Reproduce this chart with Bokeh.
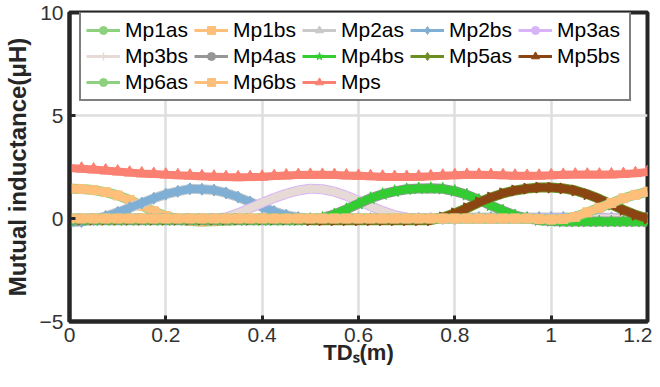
import math
from bokeh.plotting import figure
from bokeh.models import Legend, LegendItem, FixedTicker, Range1d
from bokeh.embed import file_html
from bokeh.resources import INLINE

# sampling grid of the displacement TD_s (m)
TDs = [round(i * 0.025, 3) for i in range(49)]

Mps = [2.45, 2.42, 2.38, 2.33, 2.28, 2.23, 2.19, 2.16, 2.13, 2.10,
       2.08, 2.05, 2.03, 2.01, 2.00, 2.01, 2.03, 2.06, 2.09, 2.11,
       2.12, 2.12, 2.11, 2.09, 2.07, 2.05, 2.03, 2.02, 2.02, 2.03,
       2.05, 2.08, 2.10, 2.12, 2.12, 2.11, 2.10, 2.08, 2.07, 2.08,
       2.10, 2.12, 2.13, 2.13, 2.13, 2.14, 2.16, 2.20, 2.26]

Mp1bs = [1.45, 1.43, 1.38, 1.28, 1.12, 0.90, 0.62, 0.35, 0.12, -0.03,
         -0.12, -0.15, -0.13, -0.10, -0.06, -0.03, -0.01, 0.00, 0.00, 0.00,
         0.00, 0.00, 0.00, 0.00, 0.00, 0.00, 0.00, 0.00, 0.00, 0.00,
         0.00, 0.00, 0.00, 0.00, 0.00, 0.00, 0.00, 0.00, 0.00, 0.00,
         0.00, 0.00, 0.00, 0.00, 0.00, 0.00, 0.00, 0.00, 0.00]

Mp2bs = [-0.20, -0.15, -0.05, 0.10, 0.30, 0.52, 0.75, 0.98, 1.18, 1.32,
         1.44, 1.42, 1.38, 1.24, 1.04, 0.80, 0.56, 0.34, 0.16, 0.05,
         0.00, -0.02, 0.00, 0.00, 0.00, 0.00, 0.00, 0.00, 0.00, 0.00,
         0.00, 0.00, 0.00, 0.05, 0.05, 0.05, 0.05, 0.05, 0.05, 0.05,
         0.05, 0.05, 0.05, 0.05, 0.05, 0.03, 0.03, 0.03, 0.03]

Mp3bs = [0.00, 0.00, 0.00, 0.00, 0.00, 0.00, 0.00, 0.00, 0.00, 0.00,
         0.00, 0.00, 0.00, 0.05, 0.25, 0.50, 0.76, 1.00, 1.20, 1.36,
         1.45, 1.42, 1.30, 1.10, 0.86, 0.60, 0.36, 0.16, 0.04, 0.00,
         0.00, 0.00, 0.00, 0.00, 0.00, 0.00, 0.00, 0.00, 0.00, 0.00,
         0.00, 0.00, 0.00, 0.00, 0.00, 0.00, 0.00, 0.00, 0.00]

Mp4bs = [-0.08, -0.08, -0.08, -0.08, -0.08, -0.08, -0.08, -0.08, -0.08, -0.08,
         -0.08, -0.08, -0.08, -0.08, -0.08, -0.08, -0.08, -0.08, -0.08, -0.08,
         -0.06, 0.02, 0.20, 0.45, 0.72, 0.98, 1.18, 1.32, 1.42, 1.46,
         1.47, 1.44, 1.33, 1.15, 0.90, 0.63, 0.38, 0.15, 0.00, -0.08,
         -0.12, -0.15, -0.15, -0.15, -0.15, -0.15, -0.15, -0.15, -0.15]

Mp5bs = [-0.03, -0.03, -0.03, -0.03, -0.03, -0.03, -0.03, -0.03, -0.03, -0.03,
         -0.03, -0.03, -0.03, -0.03, -0.03, -0.03, -0.03, -0.03, -0.03, -0.03,
         -0.08, -0.08, -0.08, -0.08, -0.08, -0.08, -0.08, -0.08, -0.08, -0.08,
         -0.08, 0.05, 0.25, 0.50, 0.78, 1.02, 1.22, 1.36, 1.45, 1.50,
         1.50, 1.46, 1.36, 1.18, 0.95, 0.68, 0.42, 0.18, 0.00]

Mp6bs = [0.00, 0.00, 0.00, 0.00, 0.00, 0.00, 0.00, 0.00, 0.00, 0.00,
         0.00, 0.00, 0.00, 0.00, 0.00, 0.00, 0.00, 0.00, 0.00, 0.00,
         0.00, 0.00, 0.00, 0.00, 0.00, 0.00, 0.00, 0.00, 0.00, 0.00,
         0.00, 0.00, 0.00, 0.00, 0.00, 0.00, 0.00, 0.00, 0.00, -0.03,
         -0.05, -0.03, 0.08, 0.30, 0.52, 0.75, 0.98, 1.15, 1.30]

# the "as" curves coincide with their "bs" counterparts in the picture
Mp1as, Mp2as, Mp3as, Mp4as, Mp5as, Mp6as = Mp1bs, Mp2bs, Mp3bs, Mp4bs, Mp5bs, Mp6bs

x_ticks = [0, 0.2, 0.4, 0.6, 0.8, 1.0, 1.2]
y_ticks = [-5, 0, 5, 10]

series = [
    # name, values, color, marker, marker size, angle
    ("Mp1as", Mp1as, "#8dd17e", "circle", 9, 0.0),
    ("Mp1bs", Mp1bs, "#fdbf7a", "square", 9, 0.0),
    ("Mp2as", Mp2as, "#c9c9c9", "triangle", 10, 0.0),
    ("Mp2bs", Mp2bs, "#7fafd4", "diamond", 12, 0.0),
    ("Mp3as", Mp3as, "#d6b4f7", "circle", 5, 0.0),
    ("Mp3bs", Mp3bs, "#e6d9d6", "cross", 9, 0.0),
    ("Mp4as", Mp4as, "#969696", "circle", 6, 0.0),
    ("Mp4bs", Mp4bs, "#33cc33", "star", 13, 0.0),
    ("Mp5as", Mp5as, "#6b8e23", "diamond", 11, 0.0),
    ("Mp5bs", Mp5bs, "#8b4513", "triangle", 11, -math.pi / 2),
    ("Mp6as", Mp6as, "#8dd17e", "circle", 9, 0.0),
    ("Mp6bs", Mp6bs, "#fdbf7a", "square", 9, 0.0),
    ("Mps", Mps, "#fa8072", "triangle", 12, 0.0),
]

INK = "#262626"
FONT = "Liberation Sans"

p = figure(width=652, height=379, output_backend="svg", toolbar_location=None,
           x_range=Range1d(0, 1.2), y_range=Range1d(-5, 10),
           min_border_left=68, min_border_right=5, min_border_top=12,
           min_border_bottom=58)

p.outline_line_color = INK
p.outline_line_width = 4
p.outline_line_alpha = 1.0

p.xaxis.ticker = FixedTicker(ticks=x_ticks)
p.yaxis.ticker = FixedTicker(ticks=y_ticks)
p.xaxis.major_label_overrides = {0: "0", 1: "1"}

for ax in (p.xaxis[0], p.yaxis[0]):
    ax.axis_line_color = INK
    ax.axis_line_width = 4
    ax.major_tick_line_color = INK
    ax.major_tick_line_width = 3
    ax.major_tick_in = 6
    ax.major_tick_out = 0
    ax.minor_tick_line_color = None
    ax.major_label_text_font = FONT
    ax.major_label_text_font_size = "21px"
    ax.major_label_text_color = "#333333"
    ax.axis_label_text_font = FONT
    ax.axis_label_text_font_style = "bold"
    ax.axis_label_text_color = INK

p.xaxis.major_label_standoff = 6
p.xaxis.axis_label = "TD\u209b(m)"
p.xaxis.axis_label_text_font_size = "22px"
p.xaxis.axis_label_standoff = -5
p.yaxis.major_label_standoff = 6
p.yaxis.axis_label = "Mutual inductance(\u03bcH)"
p.yaxis.axis_label_text_font_size = "24px"
p.yaxis.axis_label_standoff = 6

p.xgrid.ticker = FixedTicker(ticks=x_ticks)
p.ygrid.ticker = FixedTicker(ticks=y_ticks)
p.grid.grid_line_color = "#dedede"
p.grid.grid_line_width = 2.5

# data curves
for name, vals, color, marker, msize, ang in series:
    if name.endswith("as"):
        p.line(TDs, vals, line_color=color, line_width=10)
    else:
        p.line(TDs, vals, line_color=color, line_width=8)
        if marker == "cross":
            p.scatter(TDs, vals, marker=marker, size=msize, line_color=color, line_width=2)
        else:
            p.scatter(TDs, vals, marker=marker, size=msize, angle=ang,
                      fill_color=color, line_color=color)

# legend glyphs: hidden thin copies so the legend lines look like the original
items = []
for name, vals, color, marker, msize, ang in series:
    lr = p.line(TDs, vals, line_color=color, line_width=3, visible=False)
    if marker == "cross":
        sr = p.scatter(TDs, vals, marker=marker, size=msize, line_color=color,
                       line_width=1.5, visible=False)
    else:
        s = msize if msize < 10 else msize - 2
        sr = p.scatter(TDs, vals, marker=marker, size=s, angle=ang,
                       fill_color=color, line_color=color, visible=False)
    items.append(LegendItem(label=name, renderers=[lr, sr], index=0))

legend = Legend(items=items, orientation="horizontal", ncols=5,
                location=(10, 220), border_line_color="black", border_line_width=2,
                background_fill_color="white", background_fill_alpha=1.0,
                inactive_fill_alpha=0.0,
                label_text_font=FONT, label_text_font_size="21px",
                label_text_color="black", glyph_width=34, glyph_height=20,
                label_height=20, label_width=67, label_standoff=5,
                spacing=2, padding=5, margin=0)
p.add_layout(legend, "center")

open("out.html", "w").write(file_html(p, INLINE))
